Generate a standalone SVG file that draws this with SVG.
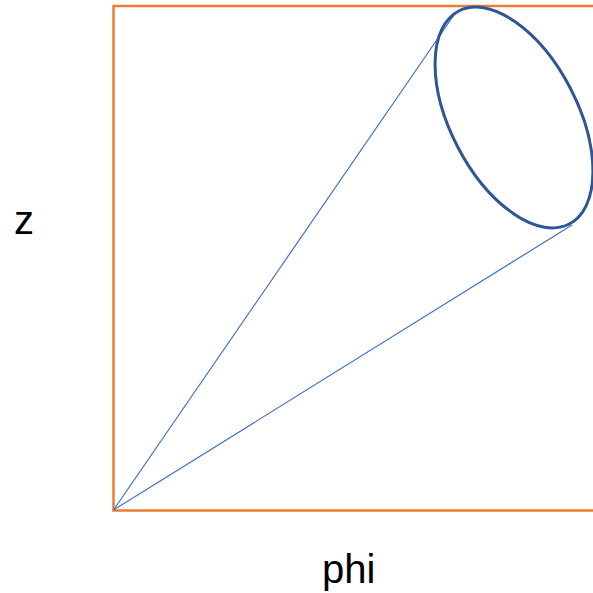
<svg xmlns="http://www.w3.org/2000/svg" width="593" height="593" viewBox="0 0 593 593">
<style>
.frame{fill:none;stroke:#ED7D31;stroke-width:2.5}
.ray{stroke:#4472C4;stroke-width:1.2;fill:none}
.ell{fill:none;stroke:#2F5597;stroke-width:3}
.lbl{font-family:"Liberation Sans",Arial,sans-serif;font-size:40px;fill:#000}
</style>
<rect width="593" height="593" fill="#fff"/>
<g id="frame"><rect class="frame" x="113.5" y="6" width="500" height="504.5"/></g>
<g id="connectors">
<line class="ray" x1="113.5" y1="510" x2="456" y2="12"/>
<line class="ray" x1="113.5" y1="510" x2="572" y2="225"/>
</g>
<g id="ellipse"><ellipse class="ell" cx="0" cy="0" rx="120" ry="63.5" transform="translate(514 117.5) rotate(62.6)"/></g>
<g id="label-z"><text class="lbl" x="14" y="234">z</text></g>
<g id="label-phi"><text class="lbl" x="322" y="583">phi</text></g>
</svg>
